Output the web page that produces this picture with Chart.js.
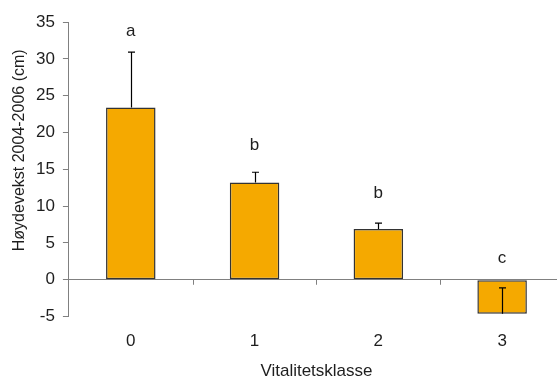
<!DOCTYPE html>
<html>
<head>
<meta charset="utf-8">
<script src="https://cdn.jsdelivr.net/npm/chart.js@4"></script>
<style>
  html, body { margin: 0; padding: 0; background: #fff; overflow: hidden; }
  #boks { width: 564px; height: 378px; }
</style>
</head>
<body>
<div id="boks"><canvas id="grafico"></canvas></div>
<script>
// Høydevekst per vitalitetsklasse
const klasser = ['0', '1', '2', '3'];
const hoydevekst = [23.4, 13.2, 6.9, -4.6];
const feil = [7.5, 1.4, 0.8, 3.5];
const bokstaver = ['a', 'b', 'b', 'c'];
const bokstavHoyde = [33.8, 18.3, 11.7, 2.9];
const yTicks = [-5, 0, 5, 10, 15, 20, 25, 30, 35];
const yTittel = 'Høydevekst 2004-2006 (cm)';

const gra = '#808080';
const tekst = '#1e1e1e';
const skrift = '"Liberation Sans", Arial, sans-serif';

// feilstolper, bokstaver, y-tittel og tickmerker på nullinjen
const ekstra = {
  id: 'ekstra',
  afterDatasetsDraw(chart) {
    const { ctx, chartArea, scales: { x, y } } = chart;
    const y0 = y.getPixelForValue(0);
    const steg = x.getPixelForValue(1) - x.getPixelForValue(0);
    ctx.save();
    // små tickmerker mellom kategoriene, under nullinjen
    ctx.strokeStyle = gra;
    ctx.lineWidth = 1;
    for (let i = 0; i < klasser.length; i++) {
      const xp = Math.round(x.getPixelForValue(i) + steg / 2) + 0.5;
      ctx.beginPath();
      ctx.moveTo(xp, y0);
      ctx.lineTo(xp, y0 + 5);
      ctx.stroke();
    }
    // feilstolper
    ctx.strokeStyle = '#000';
    ctx.lineWidth = 1.2;
    hoydevekst.forEach((v, i) => {
      const xp = Math.round(x.getPixelForValue(i)) + 0.5;
      const yA = y.getPixelForValue(v);
      const yB = y.getPixelForValue(v + feil[i]);
      ctx.beginPath();
      ctx.moveTo(xp, yA);
      ctx.lineTo(xp, yB);
      ctx.moveTo(xp - 3.5, yB);
      ctx.lineTo(xp + 3.5, yB);
      ctx.stroke();
    });
    // bokstaver
    ctx.fillStyle = tekst;
    ctx.font = '17px ' + skrift;
    ctx.textAlign = 'center';
    ctx.textBaseline = 'middle';
    bokstaver.forEach((b, i) => {
      ctx.fillText(b, x.getPixelForValue(i), y.getPixelForValue(bokstavHoyde[i]));
    });
    // y-tittel, litt over midten av aksen som i originalen
    ctx.font = '16px ' + skrift;
    ctx.translate(20, (chartArea.top + chartArea.bottom) / 2 - 19);
    ctx.rotate(-Math.PI / 2);
    ctx.fillText(yTittel, 0, 0);
    ctx.restore();
  }
};

new Chart(document.getElementById('grafico'), {
  type: 'bar',
  data: {
    labels: klasser,
    datasets: [{
      data: hoydevekst,
      backgroundColor: '#F5A900',
      borderColor: '#333333',
      borderWidth: 1.5,
      borderSkipped: false,
      categoryPercentage: 1,
      barPercentage: 0.4
    }]
  },
  options: {
    responsive: true,
    maintainAspectRatio: false,
    animation: false,
    layout: { padding: { top: 22, right: 0, bottom: 3, left: 28 } },
    plugins: { legend: { display: false }, tooltip: { enabled: false } },
    scales: {
      x: {
        border: { display: false },
        grid: { display: false, drawTicks: false },
        ticks: { color: tekst, font: { family: skrift, size: 17 }, padding: 15 },
        title: {
          display: true, text: 'Vitalitetsklasse', color: tekst,
          font: { family: skrift, size: 17, lineHeight: '8px' },
          padding: { top: 0, bottom: 0 }
        }
      },
      y: {
        min: -5, max: 35,
        afterBuildTicks: s => { s.ticks = yTicks.map(v => ({ value: v })); },
        border: { display: true, color: gra, width: 1 },
        grid: {
          drawOnChartArea: true,
          color: c => (c.tick && c.tick.value === 0) ? gra : 'transparent',
          tickColor: gra,
          tickLength: 6
        },
        ticks: { color: tekst, font: { family: skrift, size: 17 }, padding: 8 },
        title: { display: false }
      }
    }
  },
  plugins: [ekstra]
});
</script>
</body>
</html>
